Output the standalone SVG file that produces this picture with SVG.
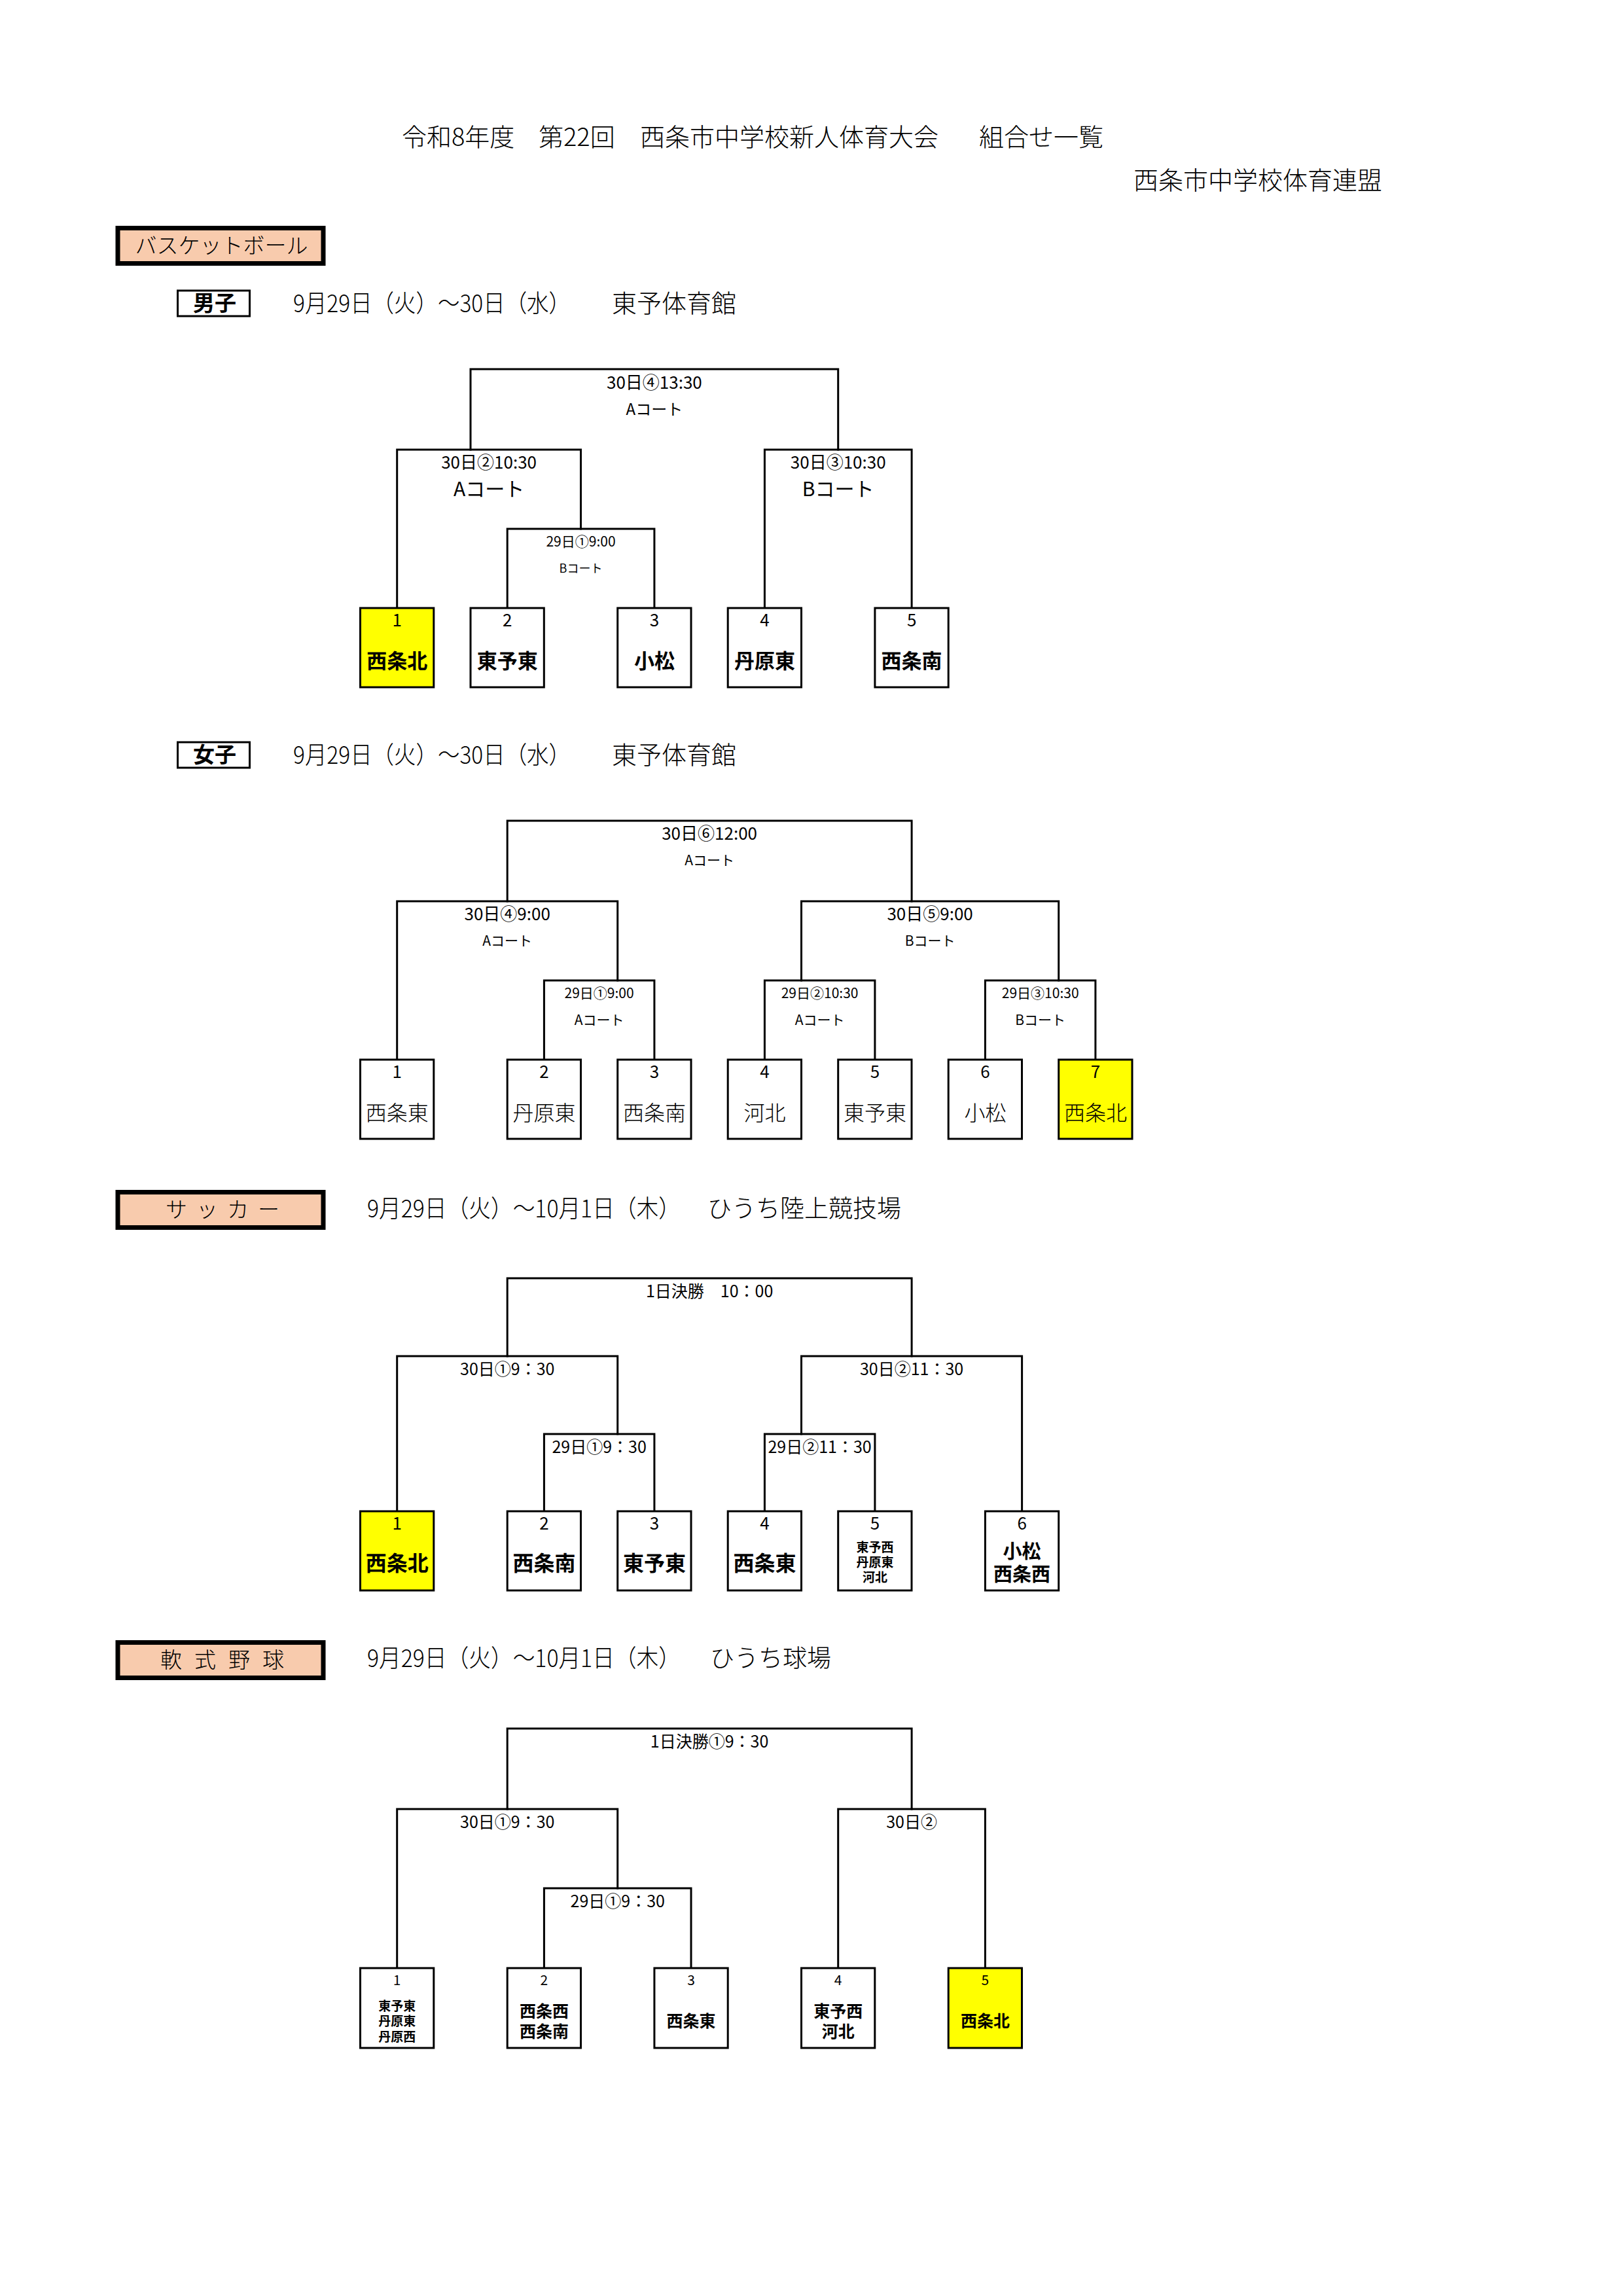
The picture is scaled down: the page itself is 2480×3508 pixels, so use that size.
<svg xmlns="http://www.w3.org/2000/svg" width="2480" height="3508" viewBox="0 0 2480 3508">
<style>
text{font-family:"Noto Sans CJK JP","Noto Sans CJK SC",sans-serif;fill:#000}
.m{text-anchor:middle}
.thin{font-weight:300}
.b{font-weight:700}
.ln{fill:none;stroke:#000;stroke-width:3;stroke-linecap:square}
.box{fill:#fff;stroke:#000;stroke-width:3}
.yel{fill:#ffff00;stroke:#000;stroke-width:3}
.sec{fill:#f8cbad;stroke:#000;stroke-width:7}
.sub{fill:#fff;stroke:#000;stroke-width:3}
.f18{font-size:18px}.f19{font-size:19px}.f21{font-size:21px}.f24{font-size:24px}.f25{font-size:25px}.f26{font-size:26px}.f29{font-size:29px}.f30{font-size:30px}.f31{font-size:31px}.f32{font-size:32px}
</style>
<rect width="2480" height="3508" fill="#fff"/>

<g id="title">
<text class="thin" x="614" y="223" font-size="38">令和8年度</text>
<text class="thin" x="823" y="223" font-size="38">第22回</text>
<text class="thin" x="978" y="223" font-size="38">西条市中学校新人体育大会</text>
<text class="thin" x="1496" y="223" font-size="38">組合せ一覧</text>
<text class="thin" x="1732" y="289" font-size="38">西条市中学校体育連盟</text>
</g>

<!-- Basketball header -->
<g id="hdr-basketball">
<rect class="sec" x="180" y="348.5" width="314" height="54"/>
<text class="thin m" x="338.5" y="387" font-size="33">バスケットボール</text>
</g>
<g id="hdr-boys">
<rect class="sub" x="271.5" y="444" width="110" height="39"/>
<text class="b m" x="328" y="475" font-size="33">男子</text>
<text class="thin" x="448" y="477" font-size="37" textLength="424" lengthAdjust="spacingAndGlyphs">9月29日（火）～30日（水）</text>
<text class="thin" x="935" y="477" font-size="38">東予体育館</text>
</g>

<!-- Boys bracket -->
<g id="boys-connectors">
<path class="ln" d="M719,687 V564 H1280.7 V687"/>
<path class="ln" d="M606.7,929 V687 H887.5 V808"/>
<path class="ln" d="M775.2,929 V808 H999.9 V929"/>
<path class="ln" d="M1168.4,929 V687 H1393.1 V929"/>
</g>
<g id="boys-labels">
<text class="m f26" x="999.9" y="593.5">30日④13:30</text>
<text class="m f24" x="999.9" y="634">Aコート</text>
<text class="m f26" x="747.1" y="715.5">30日②10:30</text>
<text class="m f30" x="747.1" y="758">Aコート</text>
<text class="m f26" x="1280.7" y="715.5">30日③10:30</text>
<text class="m f30" x="1280.7" y="758">Bコート</text>
<text class="m f21" x="887.5" y="834.5">29日①9:00</text>
<text class="m f18" x="887.5" y="874.5">Bコート</text>
</g>
<g id="boys-1"><rect class="yel" x="550.5" y="929" width="112.3" height="121"/><text class="m f26" x="606.7" y="956.5">1</text><text class="m f31 b" x="606.7" y="1020.5">西条北</text></g>
<g id="boys-2"><rect class="box" x="719" y="929" width="112.3" height="121"/><text class="m f26" x="775.2" y="956.5">2</text><text class="m f31 b" x="775.2" y="1020.5">東予東</text></g>
<g id="boys-3"><rect class="box" x="943.7" y="929" width="112.3" height="121"/><text class="m f26" x="999.9" y="956.5">3</text><text class="m f31 b" x="999.9" y="1020.5">小松</text></g>
<g id="boys-4"><rect class="box" x="1112.2" y="929" width="112.3" height="121"/><text class="m f26" x="1168.4" y="956.5">4</text><text class="m f31 b" x="1168.4" y="1020.5">丹原東</text></g>
<g id="boys-5"><rect class="box" x="1336.9" y="929" width="112.3" height="121"/><text class="m f26" x="1393.1" y="956.5">5</text><text class="m f31 b" x="1393.1" y="1020.5">西条南</text></g>

<!-- Girls -->
<g id="hdr-girls">
<rect class="sub" x="271.5" y="1134" width="110" height="39"/>
<text class="b m" x="328" y="1165" font-size="33">女子</text>
<text class="thin" x="448" y="1167" font-size="37" textLength="424" lengthAdjust="spacingAndGlyphs">9月29日（火）～30日（水）</text>
<text class="thin" x="935" y="1167" font-size="38">東予体育館</text>
</g>
<g id="girls-connectors">
<path class="ln" d="M775.2,1377 V1254 H1393.1 V1377"/>
<path class="ln" d="M606.7,1619 V1377 H943.7 V1498"/>
<path class="ln" d="M831.4,1619 V1498 H999.9 V1619"/>
<path class="ln" d="M1224.5,1498 V1377 H1617.7 V1498"/>
<path class="ln" d="M1168.4,1619 V1498 H1336.9 V1619"/>
<path class="ln" d="M1505.4,1619 V1498 H1673.9 V1619"/>
</g>
<g id="girls-labels">
<text class="m f26" x="1084.1" y="1282.5">30日⑥12:00</text>
<text class="m f21" x="1084.1" y="1321.5">Aコート</text>
<text class="m f26" x="775.2" y="1405.5">30日④9:00</text>
<text class="m f21" x="775.2" y="1444.5">Aコート</text>
<text class="m f26" x="1421.1" y="1405.5">30日⑤9:00</text>
<text class="m f21" x="1421.1" y="1444.5">Bコート</text>
<text class="m f21" x="915.6" y="1524.5">29日①9:00</text>
<text class="m f21" x="915.6" y="1565.5">Aコート</text>
<text class="m f21" x="1252.6" y="1524.5">29日②10:30</text>
<text class="m f21" x="1252.6" y="1565.5">Aコート</text>
<text class="m f21" x="1589.7" y="1524.5">29日③10:30</text>
<text class="m f21" x="1589.7" y="1565.5">Bコート</text>
</g>
<g id="girls-1"><rect class="box" x="550.5" y="1619" width="112.3" height="121"/><text class="m f26" x="606.7" y="1646.5">1</text><text class="m f32 thin" x="606.7" y="1712">西条東</text></g>
<g id="girls-2"><rect class="box" x="775.2" y="1619" width="112.3" height="121"/><text class="m f26" x="831.4" y="1646.5">2</text><text class="m f32 thin" x="831.4" y="1712">丹原東</text></g>
<g id="girls-3"><rect class="box" x="943.7" y="1619" width="112.3" height="121"/><text class="m f26" x="999.9" y="1646.5">3</text><text class="m f32 thin" x="999.9" y="1712">西条南</text></g>
<g id="girls-4"><rect class="box" x="1112.2" y="1619" width="112.3" height="121"/><text class="m f26" x="1168.4" y="1646.5">4</text><text class="m f32 thin" x="1168.4" y="1712">河北</text></g>
<g id="girls-5"><rect class="box" x="1280.7" y="1619" width="112.3" height="121"/><text class="m f26" x="1336.9" y="1646.5">5</text><text class="m f32 thin" x="1336.9" y="1712">東予東</text></g>
<g id="girls-6"><rect class="box" x="1449.2" y="1619" width="112.3" height="121"/><text class="m f26" x="1505.4" y="1646.5">6</text><text class="m f32 thin" x="1505.4" y="1712">小松</text></g>
<g id="girls-7"><rect class="yel" x="1617.7" y="1619" width="112.3" height="121"/><text class="m f26" x="1673.9" y="1646.5">7</text><text class="m f32 thin" x="1673.9" y="1712">西条北</text></g>

<!-- Soccer -->
<g id="hdr-soccer">
<rect class="sec" x="180" y="1821.5" width="314" height="54"/>
<text class="thin" x="253" y="1860" font-size="33" letter-spacing="14">サッカー</text>
<text class="thin" x="561" y="1860" font-size="37" textLength="479" lengthAdjust="spacingAndGlyphs">9月29日（火）～10月1日（木）</text>
<text class="thin" x="1081" y="1860" font-size="37">ひうち陸上競技場</text>
</g>
<g id="soccer-connectors">
<path class="ln" d="M775.2,2072 V1953 H1393.1 V2072"/>
<path class="ln" d="M606.7,2309 V2072 H943.7 V2191"/>
<path class="ln" d="M831.4,2309 V2191 H999.9 V2309"/>
<path class="ln" d="M1224.5,2191 V2072 H1561.6 V2309"/>
<path class="ln" d="M1168.4,2309 V2191 H1336.9 V2309"/>
</g>
<g id="soccer-labels">
<text class="m f25" x="1084.1" y="1981.5">1日決勝　10：00</text>
<text class="m f25" x="775.2" y="2100.5">30日①9：30</text>
<text class="m f25" x="1393.1" y="2100.5">30日②11：30</text>
<text class="m f25" x="915.6" y="2219.5">29日①9：30</text>
<text class="m f25" x="1252.6" y="2219.5">29日②11：30</text>
</g>
<g id="soccer-1"><rect class="yel" x="550.5" y="2309" width="112.3" height="121"/><text class="m f26" x="606.7" y="2337">1</text><text class="m f32 b" x="606.7" y="2399.5">西条北</text></g>
<g id="soccer-2"><rect class="box" x="775.2" y="2309" width="112.3" height="121"/><text class="m f26" x="831.4" y="2337">2</text><text class="m f32 b" x="831.4" y="2399.5">西条南</text></g>
<g id="soccer-3"><rect class="box" x="943.7" y="2309" width="112.3" height="121"/><text class="m f26" x="999.9" y="2337">3</text><text class="m f32 b" x="999.9" y="2399.5">東予東</text></g>
<g id="soccer-4"><rect class="box" x="1112.2" y="2309" width="112.3" height="121"/><text class="m f26" x="1168.4" y="2337">4</text><text class="m f32 b" x="1168.4" y="2399.5">西条東</text></g>
<g id="soccer-5"><rect class="box" x="1280.7" y="2309" width="112.3" height="121"/><text class="m f26" x="1336.9" y="2337">5</text><text class="m f19 b" x="1336.9" y="2371">東予西</text><text class="m f19 b" x="1336.9" y="2394">丹原東</text><text class="m f19 b" x="1336.9" y="2417">河北</text></g>
<g id="soccer-6"><rect class="box" x="1505.4" y="2309" width="112.3" height="121"/><text class="m f26" x="1561.6" y="2337">6</text><text class="m f29 b" x="1561.6" y="2381">小松</text><text class="m f29 b" x="1561.6" y="2416">西条西</text></g>

<!-- Baseball -->
<g id="hdr-baseball">
<rect class="sec" x="180" y="2509.5" width="314" height="54"/>
<text class="thin" x="245" y="2548" font-size="33" letter-spacing="19">軟式野球</text>
<text class="thin" x="561" y="2547" font-size="37" textLength="479" lengthAdjust="spacingAndGlyphs">9月29日（火）～10月1日（木）</text>
<text class="thin" x="1085" y="2547" font-size="37">ひうち球場</text>
</g>
<g id="baseball-connectors">
<path class="ln" d="M775.2,2764 V2641 H1393.1 V2764"/>
<path class="ln" d="M606.7,3007 V2764 H943.7 V2885"/>
<path class="ln" d="M831.4,3007 V2885 H1056 V3007"/>
<path class="ln" d="M1280.7,3007 V2764 H1505.4 V3007"/>
</g>
<g id="baseball-labels">
<text class="m f25" x="1084.1" y="2669.5">1日決勝①9：30</text>
<text class="m f25" x="775.2" y="2792.5">30日①9：30</text>
<text class="m f25" x="1393.1" y="2792.5">30日②</text>
<text class="m f25" x="943.7" y="2913.5">29日①9：30</text>
</g>
<g id="baseball-1"><rect class="box" x="550.5" y="3007" width="112.3" height="122"/><text class="m f21" x="606.7" y="3033">1</text><text class="m f19 b" x="606.7" y="3072">東予東</text><text class="m f19 b" x="606.7" y="3095">丹原東</text><text class="m f19 b" x="606.7" y="3119">丹原西</text></g>
<g id="baseball-2"><rect class="box" x="775.2" y="3007" width="112.3" height="122"/><text class="m f21" x="831.4" y="3033">2</text><text class="m f25 b" x="831.4" y="3082">西条西</text><text class="m f25 b" x="831.4" y="3113">西条南</text></g>
<g id="baseball-3"><rect class="box" x="999.9" y="3007" width="112.3" height="122"/><text class="m f21" x="1056" y="3033">3</text><text class="m f25 b" x="1056" y="3097">西条東</text></g>
<g id="baseball-4"><rect class="box" x="1224.5" y="3007" width="112.3" height="122"/><text class="m f21" x="1280.7" y="3033">4</text><text class="m f25 b" x="1280.7" y="3082">東予西</text><text class="m f25 b" x="1280.7" y="3113">河北</text></g>
<g id="baseball-5"><rect class="yel" x="1449.2" y="3007" width="112.3" height="122"/><text class="m f21" x="1505.4" y="3033">5</text><text class="m f25 b" x="1505.4" y="3097">西条北</text></g>
</svg>
